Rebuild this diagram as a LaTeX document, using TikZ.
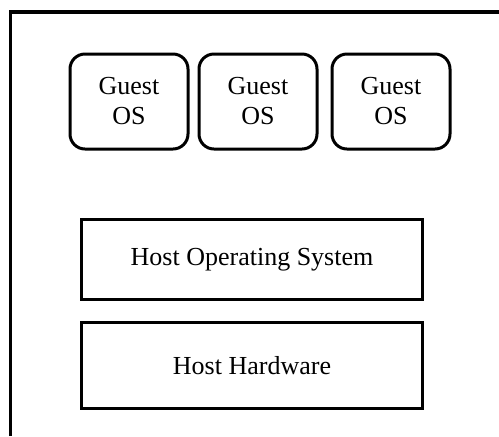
\documentclass[tikz,border=0pt]{standalone}
\usepackage{fontspec}
\setmainfont{Liberation Serif}
\usepackage{tikz}
\usetikzlibrary{positioning}

\begin{document}
\begin{tikzpicture}[x=0.5pt, y=-0.5pt]
          \tikzset{
            GuestStyle/.style = { rectangle, rounded corners=7.5pt, draw,
              line width=1.5pt, minimum width=59pt, minimum height=47.5pt,
              align=center, font=\fontsize{13}{15}\selectfont },
            HostStyle/.style = { rectangle, draw, line width=1.5pt,
              minimum width=170.5pt, font=\fontsize{13}{15}\selectfont } }
          \useasboundingbox (0,0) rectangle (499,436);

          % outer frame, cut at the right and bottom
          \draw[line width=1.6pt] (10.5,436) -- (10.5,12) -- (499,12);

          \node[GuestStyle] (GUEST1) at (129,101.5) {Guest\\OS};
          \node[GuestStyle, right=4pt of GUEST1] (GUEST2) {Guest\\OS};
          \node[GuestStyle, right=6pt of GUEST2] (GUEST3) {Guest\\OS};

          \node[HostStyle, minimum height=40pt] (HOSTOS) at (252,259.5) {Host Operating System};
          \node[HostStyle, minimum height=43pt] (HOSTHW) at (252,365.5) {Host Hardware};
\end{tikzpicture}
\end{document}
